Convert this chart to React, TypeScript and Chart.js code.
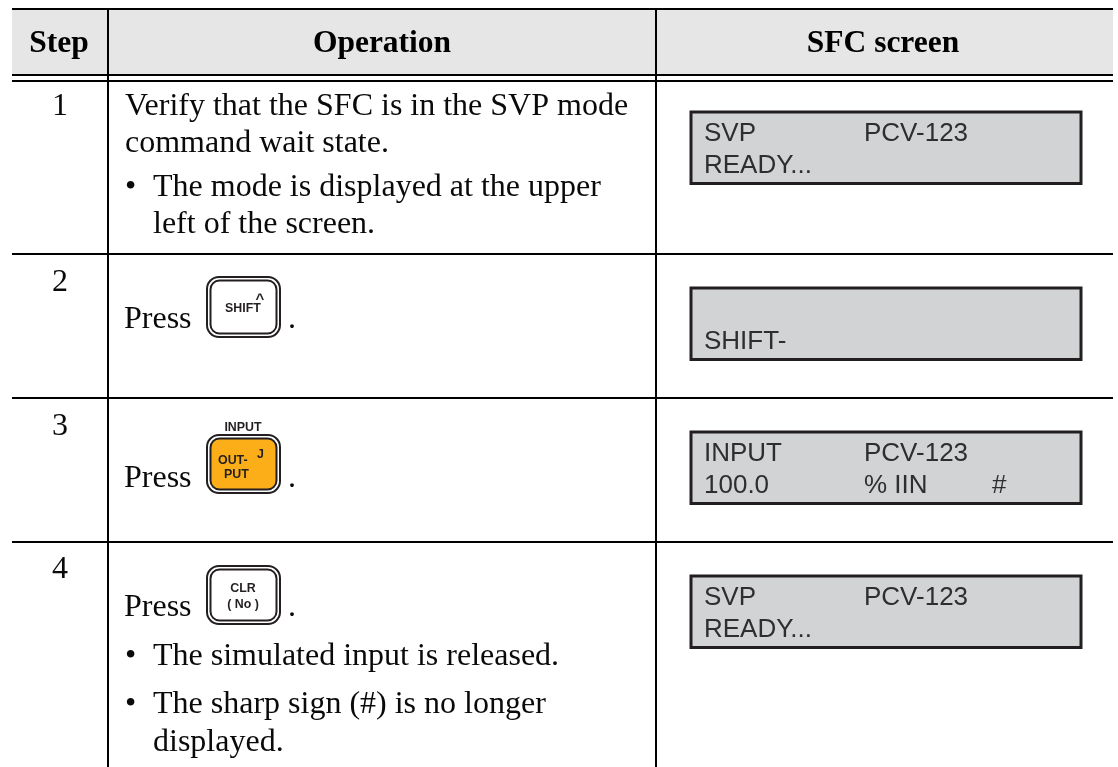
import React, { useEffect, useRef } from "react";
import { Chart, registerables } from "chart.js";

Chart.register(...registerables);

// Table content
const headers = ["Step", "Operation", "SFC screen"];
const steps = ["1", "2", "3", "4"];
const row1Lines = ["Verify that the SFC is in the SVP mode", "command wait state."];
const row1Bullet = ["The mode is displayed at the upper", "left of the screen."];
const pressWord = "Press";
const row4Bullet1 = ["The simulated input is released."];
const row4Bullet2 = ["The sharp sign (#) is no longer", "displayed."];
const screenLeft = [["SVP", "READY..."], ["", "SHIFT-"], ["INPUT", "100.0"], ["SVP", "READY..."]];
const screenMid = [["PCV-123", ""], ["", ""], ["PCV-123", "% IIN"], ["PCV-123", ""]];
const screenRight = [["", ""], ["", ""], ["", "#"], ["", ""]];

// Table geometry on the chart's scales
const columnRules = [108, 656];
const rowRules = [9, 75, 81, 254, 398, 542];
const stepBaselines = [115, 291, 435, 578];
const screenTops = [111, 287, 431, 575];
const keyBoxes = [[277, 337], [435, 493], [566, 624]];
const pressBaselines = [328, 487, 616];

const SERIF = '"Liberation Serif"';
const SANS = '"Liberation Sans"';
const INK = "#0a0a0a";

function rr(ctx: CanvasRenderingContext2D, x0: number, y0: number, x1: number, y1: number, r: number) {
  ctx.beginPath();
  ctx.roundRect(x0, y0, x1 - x0, y1 - y0, r);
}

const tablePlugin = {
  id: "table",
  beforeDraw(chart: any) {
    const { ctx, scales } = chart;
    const X = (v: number) => scales.x.getPixelForValue(v);
    const Y = (v: number) => scales.y.getPixelForValue(v);
    ctx.save();
    ctx.fillStyle = "#e6e6e6";
    ctx.fillRect(X(12), Y(9), X(1113) - X(12), Y(75) - Y(9));
    ctx.restore();
  },
  afterDraw(chart: any) {
    const { ctx, scales } = chart;
    const X = (v: number) => scales.x.getPixelForValue(v);
    const Y = (v: number) => scales.y.getPixelForValue(v);
    const text = (s: string, x: number, y: number, font: string, color = INK, align: CanvasTextAlign = "left") => {
      if (!s) return;
      ctx.font = font;
      ctx.fillStyle = color;
      ctx.textAlign = align;
      ctx.textBaseline = "alphabetic";
      ctx.fillText(s, X(x), Y(y));
    };
    ctx.save();
    const body = `32px ${SERIF}`;
    const head = `bold 31.5px ${SERIF}`;
    text(headers[0], 59, 52, head, "#000", "center");
    text(headers[1], 382, 52, head, "#000", "center");
    text(headers[2], 883, 52, head, "#000", "center");

    steps.forEach((s, i) => text(s, 60, stepBaselines[i], body, INK, "center"));

    text(row1Lines[0], 125, 115, body);
    text(row1Lines[1], 125, 152, body);
    text("•", 125, 196, body);
    text(row1Bullet[0], 153, 196, body);
    text(row1Bullet[1], 153, 233, body);

    pressBaselines.forEach((b) => {
      text(pressWord, 124, b, body);
      text(".", 288, b, body);
    });

    text("•", 125, 665, body);
    text(row4Bullet1[0], 153, 665, body);
    text("•", 125, 713, body);
    text(row4Bullet2[0], 153, 713, body);
    text(row4Bullet2[1], 153, 751, body);

    // keys
    const dark = "#231f20";
    keyBoxes.forEach(([t, b], i) => {
      ctx.strokeStyle = dark;
      ctx.lineWidth = 2;
      rr(ctx, X(207), Y(t), X(280), Y(b), 12);
      ctx.stroke();
      rr(ctx, X(210.5), Y(t + 3.5), X(276.5), Y(b - 3.5), 9);
      if (i === 1) {
        ctx.fillStyle = "#fbae17";
        ctx.fill();
      }
      ctx.lineWidth = 2;
      ctx.stroke();
    });
    const keyFont = `bold 12.4px ${SANS}`;
    text("SHIFT", 243, 312, keyFont, dark, "center");
    text("^", 260, 304, `bold 15px ${SANS}`, dark, "center");
    text("INPUT", 243, 431, keyFont, dark, "center");
    text("OUT-", 218, 464, keyFont, dark);
    text("PUT", 224, 478, keyFont, dark);
    text("J", 257, 458, keyFont, dark);
    text("CLR", 243, 592, keyFont, dark, "center");
    text("( No )", 243, 608, keyFont, dark, "center");

    // SFC screens
    const lcd = `26px ${SANS}`;
    const lcdInk = "#2e2e30";
    screenTops.forEach((top, i) => {
      ctx.fillStyle = "#d1d3d4";
      ctx.fillRect(X(691), Y(top + 1), X(1081) - X(691), Y(top + 73) - Y(top + 1));
      ctx.strokeStyle = "#231f20";
      ctx.lineWidth = 3;
      ctx.strokeRect(X(691), Y(top + 1), X(1081) - X(691), Y(top + 72.5) - Y(top + 1));
      [0, 1].forEach((ln) => {
        const b = top + (ln === 0 ? 30 : 62);
        text(screenLeft[i][ln], 704, b, lcd, lcdInk);
        text(screenMid[i][ln], 864, b, lcd, lcdInk);
        text(screenRight[i][ln], 992, b, lcd, lcdInk);
      });
    });
    ctx.restore();
  },
};

export default function App() {
  const ref = useRef<HTMLCanvasElement>(null);
  useEffect(() => {
    const chart = new Chart(ref.current!, {
      type: "scatter",
      data: { datasets: [] },
      plugins: [tablePlugin],
      options: {
        animation: false,
        responsive: false,
        layout: { padding: { left: 12, right: 5, top: 8, bottom: 0 } },
        plugins: { legend: { display: false }, tooltip: { enabled: false } },
        scales: {
          x: {
            type: "linear",
            min: 12,
            max: 1113,
            afterBuildTicks: (s: any) => {
              s.ticks = columnRules.map((value) => ({ value }));
            },
            ticks: { display: false },
            border: { display: false },
            grid: { color: "#000", lineWidth: 2, drawTicks: false },
          },
          y: {
            type: "linear",
            reverse: true,
            min: 8,
            max: 767,
            afterBuildTicks: (s: any) => {
              s.ticks = rowRules.map((value) => ({ value }));
            },
            ticks: { display: false },
            border: { display: false },
            grid: { color: "#000", lineWidth: 2, drawTicks: false },
          },
        },
      },
    } as any);
    return () => chart.destroy();
  }, []);
  return (
    <canvas
      ref={ref}
      width={1118}
      height={767}
      style={{ position: "fixed", left: 0, top: 0, width: 1118, height: 767, background: "#fff" }}
    />
  );
}
